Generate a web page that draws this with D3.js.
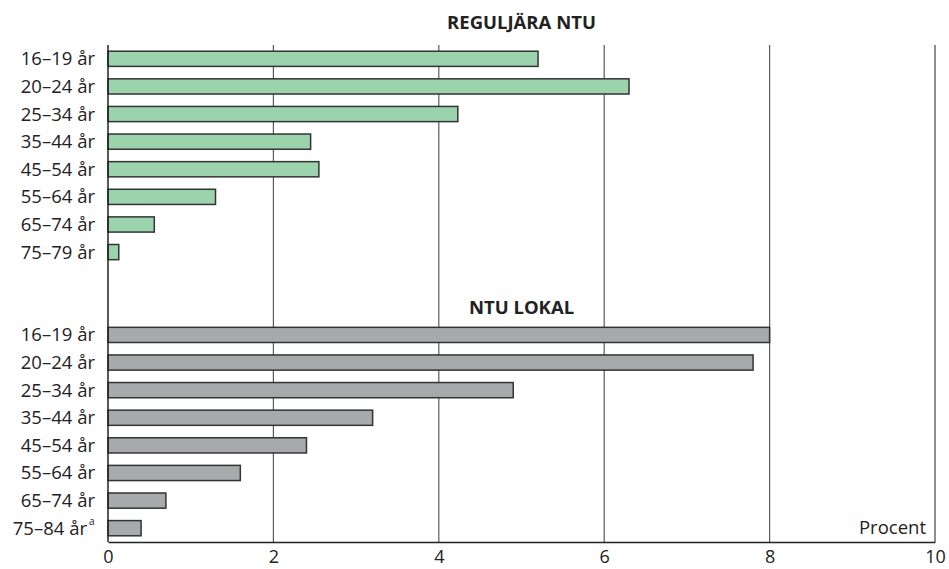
<!DOCTYPE html>
<html>
<head>
<meta charset="utf-8">
<script src="https://cdn.jsdelivr.net/npm/d3@7"></script>
<style>
  html, body { margin: 0; padding: 0; background: #fff; }
  svg { display: block; font-family: "Open Sans", "Noto Sans", sans-serif; }
</style>
</head>
<body>
<svg id="chart" width="949" height="569"></svg>
<script>
// Data
const regularCategories = ["16–19 år", "20–24 år", "25–34 år", "35–44 år", "45–54 år", "55–64 år", "65–74 år", "75–79 år"];
const regularValues = [5.2, 6.3, 4.23, 2.45, 2.55, 1.3, 0.56, 0.13];
const localCategories = ["16–19 år", "20–24 år", "25–34 år", "35–44 år", "45–54 år", "55–64 år", "65–74 år", "75–84 år"];
const localValues = [8.0, 7.8, 4.9, 3.2, 2.4, 1.6, 0.7, 0.4];
const xTicks = [0, 2, 4, 6, 8, 10];
const regularTitle = "REGULJÄRA NTU";
const localTitle = "NTU LOKAL";
const unitLabel = "Procent";

const svg = d3.select("#chart");
const mLeft = 108, mRight = 935, mTop = 45, mBottom = 542;

const x = d3.scaleLinear().domain([0, 10]).range([mLeft, mRight]);

// slot keys: 8 regular, blank, title, 8 local
const slots = [
  ...regularCategories.map((c, i) => "r" + i),
  "blank", "title",
  ...localCategories.map((c, i) => "l" + i)
];
const y = d3.scaleBand().domain(slots).range([mTop, mBottom]).paddingInner(0.45).paddingOuter(0.225);

// grid lines
svg.append("g")
  .selectAll("line")
  .data(xTicks.filter(d => d > 0))
  .join("line")
  .attr("x1", d => x(d)).attr("x2", d => x(d))
  .attr("y1", mTop).attr("y2", mBottom)
  .attr("stroke", d => d === 10 ? "#444" : "#5a5a5a")
  .attr("stroke-width", 1.2);

// bars
const regData = regularCategories.map((c, i) => ({ key: "r" + i, label: c, value: regularValues[i] }));
const locData = localCategories.map((c, i) => ({ key: "l" + i, label: c, value: localValues[i] }));

svg.append("g").selectAll("rect")
  .data(regData).join("rect")
  .attr("x", x(0))
  .attr("y", d => y(d.key))
  .attr("width", d => x(d.value) - x(0))
  .attr("height", y.bandwidth())
  .attr("fill", "#9bd3ad")
  .attr("stroke", "#333")
  .attr("stroke-width", 1.5);

svg.append("g").selectAll("rect")
  .data(locData).join("rect")
  .attr("x", x(0))
  .attr("y", d => y(d.key))
  .attr("width", d => x(d.value) - x(0))
  .attr("height", y.bandwidth())
  .attr("fill", "#a7a9ac")
  .attr("stroke", "#333")
  .attr("stroke-width", 1.5);

// axes
const xAxis = d3.axisBottom(x).tickValues(xTicks).tickSize(0).tickPadding(8);
const gx = svg.append("g").attr("transform", `translate(0,${mBottom})`).call(xAxis);
gx.select(".domain").attr("stroke", "#222").attr("stroke-width", 1.5);
gx.selectAll("text").attr("font-size", 18).attr("fill", "#222").attr("font-family", "Open Sans");

svg.append("line")
  .attr("x1", mLeft).attr("x2", mLeft)
  .attr("y1", mTop).attr("y2", mBottom)
  .attr("stroke", "#222").attr("stroke-width", 1.5);

// category labels
const labelG = svg.append("g");
[...regData, ...locData].forEach(d => {
  const t = labelG.append("text")
    .attr("x", mLeft - 13)
    .attr("y", y(d.key) + y.bandwidth() / 2)
    .attr("dy", "0.35em")
    .attr("text-anchor", "end")
    .attr("font-size", 18.5)
    .attr("fill", "#222")
    .text(d.label);
  if (d.key === "l7") {
    t.attr("x", mLeft - 21);
    labelG.append("text")
      .attr("x", mLeft - 19)
      .attr("y", y(d.key) + y.bandwidth() / 2 - 3)
      .attr("font-size", 10)
      .attr("fill", "#222")
      .text("a");
  }
});

// titles
svg.append("text")
  .attr("x", x(5)).attr("y", 23).attr("dy", "0.35em")
  .attr("text-anchor", "middle")
  .attr("font-size", 18.5).attr("font-weight", "bold").attr("fill", "#222")
  .text(regularTitle);

svg.append("text")
  .attr("x", x(5)).attr("y", y("title") + y.bandwidth() / 2).attr("dy", "0.35em")
  .attr("text-anchor", "middle")
  .attr("font-size", 18.5).attr("font-weight", "bold").attr("fill", "#222")
  .text(localTitle);

svg.append("text")
  .attr("x", mRight - 9).attr("y", 528).attr("dy", "0.35em")
  .attr("text-anchor", "end")
  .attr("font-size", 18.5).attr("fill", "#222")
  .text(unitLabel);
</script>
</body>
</html>
